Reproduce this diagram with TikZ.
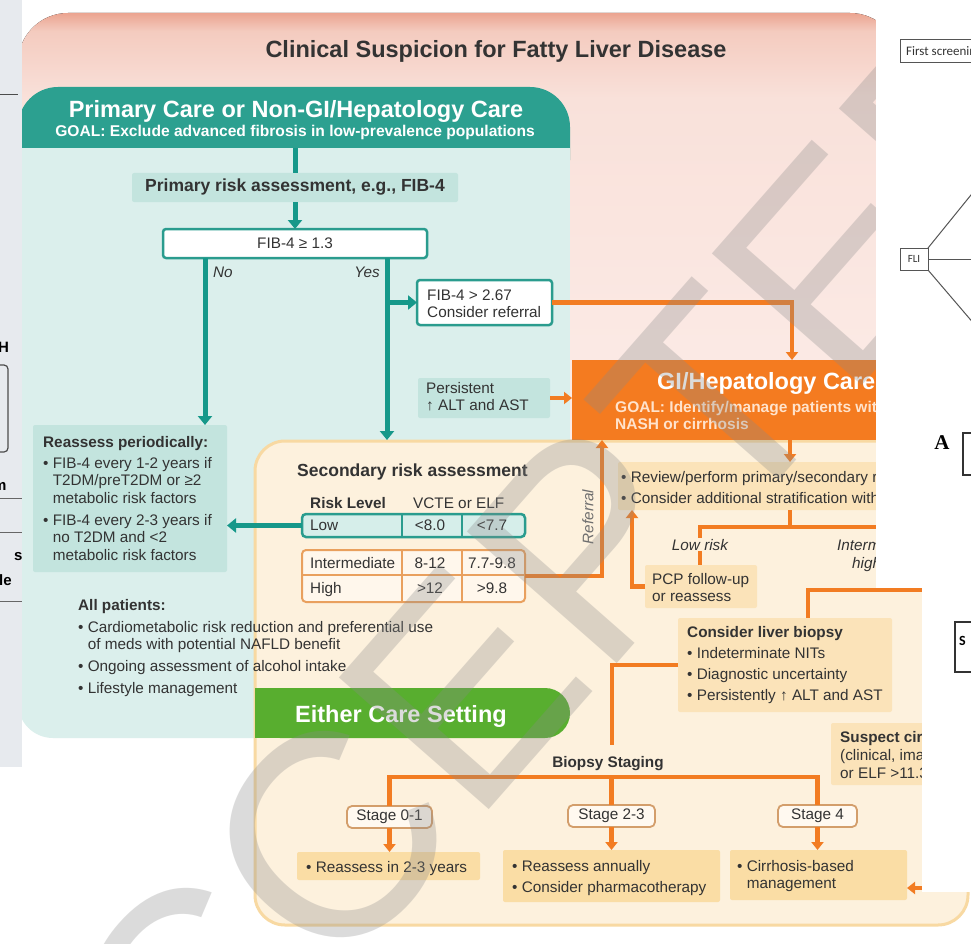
\documentclass[tikz,border=0pt]{standalone}
\usepackage{fontspec}
\setmainfont{Liberation Sans}
\newfontfamily\carlitofont{Carlito}
\newfontfamily\lserif{Liberation Serif}
\usetikzlibrary{arrows.meta}
\newcommand\firstl{\rule{0pt}{12pt}}
\newcommand\bind{\hphantom{•\ }}
\newcommand\bodyf{\fontsize{15.3}{17.5}\selectfont}
\newcommand\headf{\fontsize{23.5}{28}\selectfont\bfseries}
\newcommand\subf{\fontsize{17.5}{21}\selectfont\bfseries}
\definecolor{tealhead}{HTML}{2CA090}
\definecolor{tealbody}{HTML}{DBEFEC}
\definecolor{tealbox}{HTML}{C3E4DE}
\definecolor{tealline}{HTML}{16988A}
\definecolor{tealbord}{HTML}{2A9C8E}
\definecolor{lowfill}{HTML}{D6EEEA}
\definecolor{orhead}{HTML}{F47B20}
\definecolor{orline}{HTML}{F27C22}
\definecolor{cream}{HTML}{FDF1DD}
\definecolor{creamB}{HTML}{F8D9A2}
\definecolor{crbox}{HTML}{FBE3B9}
\definecolor{resbox}{HTML}{FADDA5}
\definecolor{intfill}{HTML}{FFF7EC}
\definecolor{intbord}{HTML}{E9A05E}
\definecolor{stagefill}{HTML}{FFF9F0}
\definecolor{stagebord}{HTML}{D39E6B}
\definecolor{greenbar}{HTML}{58AE2F}
\definecolor{pinkA}{HTML}{EBA490}
\definecolor{pinkM}{HTML}{F4CBBF}
\definecolor{pinkB}{HTML}{F9E1DA}
\definecolor{pinkC}{HTML}{FDF2EF}
\definecolor{txt}{HTML}{333333}
\definecolor{refgray}{HTML}{6E6E6E}
\definecolor{gigoal}{HTML}{FFE3CC}
\definecolor{wmgray}{HTML}{8A8A8A}
\definecolor{sliver}{HTML}{E7EAEE}
\definecolor{wpline}{HTML}{555555}
\pgfdeclareverticalshading{pinkshade}{100bp}{color(0bp)=(pinkC); color(25bp)=(pinkC); color(68bp)=(pinkB); color(73.5bp)=(pinkM); color(75bp)=(pinkA); color(100bp)=(pinkA)}
\tikzset{
 tline/.style={draw=tealline, line width=5pt},
 tarrow/.style={tline, -{Triangle[length=9pt,width=14pt]}},
 oline/.style={draw=orline, line width=4.5pt},
 oarrow/.style={oline, -{Triangle[length=8pt,width=12pt]}},
 boxnw/.style={anchor=north west, inner sep=0pt, outer sep=0pt},
 tealbx/.style={boxnw, fill=tealbox, rounded corners=2pt},
 tealfr/.style={boxnw, fill=white, draw=tealbord, line width=2.5pt, rounded corners=3pt},
 crbx/.style={boxnw, fill=crbox, rounded corners=2pt},
 resbx/.style={boxnw, fill=resbox, rounded corners=2pt},
 stagebx/.style={boxnw, fill=stagefill, draw=stagebord, line width=1.8pt, rounded corners=5pt, font=\bodyf, text=txt},
 mtext/.style={anchor=north west, inner sep=0pt, align=left, font=\bodyf, text=txt},
 ltext/.style={anchor=base west, inner sep=0pt, font=\bodyf, text=txt},
 ctext/.style={anchor=base, inner sep=0pt, font=\bodyf, text=txt},
}
\begin{document}
\begin{tikzpicture}[x=1pt,y=-1pt]
\useasboundingbox (0,0) rectangle (971,944);
\fill[white] (0,0) rectangle (971,944);
% pink background
\fill[shading=pinkshade, rounded corners=50pt] (18,13) rectangle (900,620);
% teal panel
\fill[tealhead, rounded corners=40pt] (18,87) rectangle (570,200);
\fill[tealbody] (18,148) rectangle (570,700);
\fill[tealbody, rounded corners=35pt] (18,600) rectangle (570,738);
% cream panel
\filldraw[fill=cream, draw=creamB, line width=3pt, rounded corners=30pt] (255,441) rectangle (968,925);
% GI header
\node[boxnw, fill=orhead, minimum width=396pt, minimum height=80pt] (gihead) at (572,360) {};
% green bar
\fill[greenbar, rounded corners=25pt] (255,688) rectangle (570,738);
\fill[greenbar] (255,688) rectangle (300,738);

% titles
\node[anchor=base, inner sep=0pt, font=\headf, text=txt] (title) at (496,58) {Clinical Suspicion for Fatty Liver Disease};
\node[anchor=base, inner sep=0pt, font=\headf, text=white] (pctitle) at (296,118) {Primary Care or Non-GI/Hepatology Care};
\node[anchor=base, inner sep=0pt, font={\fontsize{15.6}{18}\selectfont\bfseries}, text=white] (pcgoal) at (295,137) {GOAL: Exclude advanced fibrosis in low-prevalence populations};
\node[anchor=base west, inner sep=0pt, font=\headf, text=white] (gititle) at (657,389) {GI/Hepatology Care};
\node[anchor=north west, inner sep=0pt, align=left, font={\fontsize{15.5}{17}\selectfont\bfseries}, text=gigoal] (gigoal) at (615,400) {\firstl GOAL: Identify/manage patients with\\NASH or cirrhosis};
\node[anchor=base west, inner sep=0pt, font=\headf, text=white] (either) at (295,722) {Either Care Setting};

% primary care boxes
\node[tealbx, minimum width=326pt, minimum height=29pt, font=\subf, text=txt] (prim) at (132,173) {Primary risk assessment, e.g., FIB-4};
\node[tealfr, minimum width=264pt, minimum height=29pt, font=\bodyf, text=txt] (fib13) at (163,229) {FIB-4 ≥ 1.3};
\node[tealfr, minimum width=135pt, minimum height=45pt] (fib267) at (417,280) {};
\node[mtext] (tfib267) at (427,288) {\firstl FIB-4 > 2.67\\Consider referral};
\node[tealbx, minimum width=132pt, minimum height=40pt] (persist) at (418,378) {};
\node[mtext] (tpersist) at (426,381) {\firstl Persistent\\↑ ALT and AST};
\node[tealbx, minimum width=194pt, minimum height=147pt] (reassess) at (33,425) {};
\node[mtext] (treassess) at (43,435) {\firstl\textbf{Reassess periodically:}\\[3.5pt]• FIB-4 every 1-2 years if\\\bind T2DM/preT2DM or ≥2\\\bind metabolic risk factors\\[4.5pt]• FIB-4 every 2-3 years if\\\bind no T2DM and <2\\\bind metabolic risk factors};
\node[ltext, font={\bodyf\itshape}] (tno) at (213,277) {No};
\node[anchor=base east, inner sep=0pt, font={\bodyf\itshape}, text=txt] (tyes) at (380,277) {Yes};
\node[mtext] (tall) at (78,598) {\firstl\textbf{All patients:}\\[4.5pt]• Cardiometabolic risk reduction and preferential use\\\bind of meds with potential NAFLD benefit\\[4.5pt]• Ongoing assessment of alcohol intake\\[4.5pt]• Lifestyle management};

% secondary risk table
\node[anchor=base west, inner sep=0pt, font=\subf, text=txt] (tsec) at (297,476) {Secondary risk assessment};
\node[ltext, font={\bodyf\bfseries}] (trisk) at (310,508) {Risk Level};
\node[ltext] (tvcte) at (413,508) {VCTE or ELF};
\node[boxnw, fill=lowfill, draw=tealbord, line width=2.5pt, rounded corners=4pt, minimum width=223pt, minimum height=23pt] (lowrow) at (302,514) {};
\draw[tealbord, line width=1.5pt] ([xshift=100pt]lowrow.north west) -- ([xshift=100pt]lowrow.south west);
\draw[tealbord, line width=1.5pt] ([xshift=160pt]lowrow.north west) -- ([xshift=160pt]lowrow.south west);
\node[boxnw, fill=intfill, draw=intbord, line width=2pt, rounded corners=4pt, minimum width=223pt, minimum height=52pt] (introw) at (302,550) {};
\draw[intbord, line width=1.5pt] ([xshift=100pt]introw.north west) -- ([xshift=100pt]introw.south west);
\draw[intbord, line width=1.5pt] ([xshift=160pt]introw.north west) -- ([xshift=160pt]introw.south west);
\draw[intbord, line width=1.5pt] ([yshift=-25pt]introw.north west) -- ([yshift=-25pt]introw.north east);
\node[ltext] (cl0) at (310,530) {Low};
\node[ctext] (cl1) at (430,530) {<8.0};
\node[ctext] (cl2) at (492,530) {<7.7};
\node[ltext] (ci0) at (310,568) {Intermediate};
\node[ctext] (ci1) at (430,568) {8-12};
\node[ctext] (ci2) at (492,568) {7.7-9.8};
\node[ltext] (ch0) at (310,593) {High};
\node[ctext] (ch1) at (430,593) {>12};
\node[ctext] (ch2) at (492,593) {>9.8};
\node[rotate=90, inner sep=0pt, font={\bodyf\itshape}, text=refgray] (tref) at (588,517) {Referral};

% GI section
\node[crbx, minimum width=290pt, minimum height=48pt] (review) at (618,462) {};
\node[mtext] (treview) at (621,470) {\firstl• Review/perform primary/secondary risk assessment\\[3.5pt]• Consider additional stratification with NITs};
\node[anchor=base, inner sep=1pt, font={\bodyf\itshape}, text=txt] (lowrisk) at (700,550) {Low risk};
\node[ltext, font={\bodyf\itshape}] (tinterm) at (837,550) {Intermediate/};
\node[ltext, font={\bodyf\itshape}] (thigh) at (852,568) {high risk};
\node[crbx, minimum width=112pt, minimum height=43pt] (pcp) at (645,565) {};
\node[mtext] (tpcp) at (652,572) {\firstl PCP follow-up\\or reassess};
\node[crbx, minimum width=214pt, minimum height=94pt] (biopsy) at (678,618) {};
\node[mtext] (tbiopsy) at (687,625) {\firstl\textbf{Consider liver biopsy}\\[3.5pt]• Indeterminate NITs\\[3.5pt]• Diagnostic uncertainty\\[4pt]• Persistently ↑ ALT and AST};
\node[crbx, minimum width=137pt, minimum height=62pt] (suspect) at (831,723) {};
\node[anchor=north west, inner sep=0pt, align=left, font={\fontsize{15.3}{18}\selectfont}, text=txt] (tsuspect) at (840,730) {\firstl\textbf{Suspect cirrhosis}\\(clinical, imaging,\\or ELF >11.3)};
\node[anchor=base, inner sep=0pt, font={\bodyf\bfseries}, text=txt] (tbs) at (608,767) {Biopsy Staging};
\node[stagebx, minimum width=85pt, minimum height=22pt] (stage01) at (347,806) {Stage 0-1};
\node[stagebx, minimum width=87pt, minimum height=22pt] (stage23) at (568,805) {Stage 2-3};
\node[stagebx, minimum width=79pt, minimum height=22pt] (stage4) at (778,805) {Stage 4};
\node[resbx, minimum width=183pt, minimum height=28pt] (res1) at (297,852) {};
\node[ltext] (tres1) at (306,872) {• Reassess in 2-3 years};
\node[resbx, minimum width=217pt, minimum height=52pt] (res2) at (503,850) {};
\node[mtext] (tres2) at (512,859) {\firstl• Reassess annually\\[3.5pt]• Consider pharmacotherapy};
\node[resbx, minimum width=177pt, minimum height=50pt] (res3) at (730,850) {};
\node[mtext] (tres3) at (737,859) {\firstl• Cirrhosis-based\\\bind management};

% teal connectors
\coordinate (hdrBot) at (296,148);
\coordinate (secTop) at (387,440);
\draw[tline] (prim.north |- hdrBot) -- (prim.north);
\draw[tarrow] (prim.south) -- (fib13.north);
\draw[tarrow] ([xshift=42pt]fib13.south west) -- ([xshift=42pt]fib13.south west |- reassess.north);
\draw[tarrow] ([xshift=-40pt]fib13.south east) -- (secTop);
\draw[tarrow] (fib267.west -| secTop) -- (fib267.west);
\draw[tarrow] (lowrow.west) -- (lowrow.west -| reassess.east);

% orange connectors
\coordinate (giIn) at (792,360);
\coordinate (refTop) at (602,440);
\coordinate (giOut) at (790,440);
\coordinate (riskBar) at (790,527);
\coordinate (riskBarR) at (930,527);
\coordinate (ihR) at (930,590);
\coordinate (bioIn) at (808,618);
\coordinate (bsTop) at (612,745);
\coordinate (bsBar) at (600,777);
\coordinate (suspOut) at (930,888);
\draw[oarrow] (fib267.east) -| (giIn);
\draw[oarrow] (persist.east) -- (persist.east -| gihead.west);
\draw[oarrow] (introw.east) -| (refTop);
\draw[oarrow] (giOut) -- (giOut |- review.north);
\draw[oline] (review.south -| giOut) -- (riskBar);
\draw[oline] (lowrisk.north) |- (riskBarR);
\draw[oline] (lowrisk.south) -- (lowrisk.south |- pcp.north);
\draw[oarrow] (pcp.west) -| ([xshift=14pt]review.south west);
\draw[oline] (ihR) -| (bioIn);
\draw[oline] (biopsy.west) -| (bsTop);
\draw[oline] (stage01.north) |- (bsBar) -| (stage4.north);
\draw[oline] (stage23.north) -- (stage23.north |- bsBar);
\draw[oarrow] (stage01.south) -- (stage01.south |- res1.north);
\draw[oarrow] (stage23.south) -- (stage23.south |- res2.north);
\draw[oarrow] (stage4.south) -- (stage4.south |- res3.north);
\draw[oarrow] (suspOut) -- (suspOut -| res3.east);

% watermark
\node[rotate=48.7, inner sep=0pt, text=wmgray, opacity=0.3, font=\fontsize{290}{290}\selectfont] (wm) at (516,628) {ACCEPTED};

% overlapping white panels on the right
\fill[white] (876,0) rectangle (971,588);
\fill[white] (922,588) rectangle (971,892);
\node[boxnw, draw=wpline, line width=1pt, minimum width=80pt, minimum height=23pt] (fsbox) at (900,40) {};
\node[anchor=base west, inner sep=0pt, font={\carlitofont\fontsize{13}{13}\selectfont}, text=black!80] (fstext) at (906,56) {First screening};
\node[boxnw, draw=wpline, line width=1pt, minimum width=28pt, minimum height=22pt, font={\carlitofont\fontsize{11}{11}\selectfont}, text=black!80] (fli) at (900,248) {FLI};
\coordinate (fliA) at (975,190);
\coordinate (fliB) at (975,259);
\coordinate (fliC) at (975,325);
\draw[wpline, line width=1pt] (fli.north east) -- (fliA);
\draw[wpline, line width=1pt] (fli.east) -- (fliB);
\draw[wpline, line width=1pt] (fli.south east) -- (fliC);
\node[anchor=base, inner sep=0pt, font={\lserif\bfseries\fontsize{21}{21}\selectfont}] (tA) at (942,449) {A};
\node[boxnw, draw=black!80, line width=1.2pt, minimum width=30pt, minimum height=42pt] (abox) at (963,433) {};
\node[boxnw, draw=black!80, line width=1.2pt, minimum width=30pt, minimum height=50pt] (sbox) at (955,622) {};
\node[anchor=base west, inner sep=0pt, font={\carlitofont\bfseries\fontsize{14}{14}\selectfont}] (tS) at (959,645) {S};

% left sliver of another window
\begin{scope}
\clip (0,0) rectangle (22,767);
\fill[sliver] (0,0) rectangle (22,767);
\draw[black!70, line width=1pt] (0,95) -- (18,95);
\node[anchor=base west, inner sep=0pt, font={\bfseries\fontsize{15}{15}\selectfont}] (lsH) at (-2,352) {H};
\draw[black!70, line width=1.2pt, rounded corners=4pt] (-20,365) rectangle (8,452);
\node[anchor=base west, inner sep=0pt, font={\bfseries\fontsize{15}{15}\selectfont}] (lsM) at (-7,490) {m};
\draw[black!60, line width=1pt] (0,498) -- (22,498);
\draw[black!60, line width=1pt] (0,532) -- (22,532);
\node[anchor=base west, inner sep=0pt, font={\bfseries\fontsize{15}{15}\selectfont}] (lsS) at (14,560) {s};
\node[anchor=base west, inner sep=0pt, font={\bfseries\fontsize{15}{15}\selectfont}] (lsLe) at (-1,585) {le};
\draw[black!60, line width=1pt] (0,601) -- (22,601);
\end{scope}
\end{tikzpicture}
\end{document}
